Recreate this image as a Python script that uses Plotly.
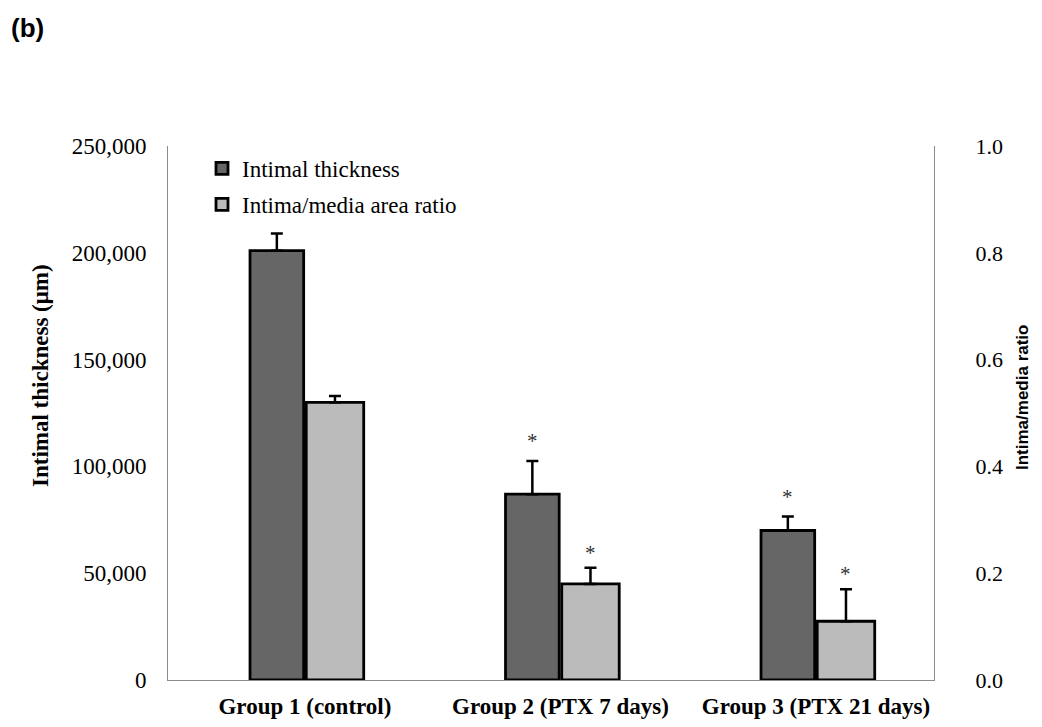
import plotly.graph_objects as go

categories = ["Group 1 (control)", "Group 2 (PTX 7 days)", "Group 3 (PTX 21 days)"]
thickness = [201000, 87000, 70000]
thickness_err = [8000, 15500, 6500]
ratio = [0.52, 0.18, 0.11]
ratio_err = [0.012, 0.03, 0.06]
sig_thickness = [False, True, True]
sig_ratio = [False, True, True]
left_ticks = [0, 50000, 100000, 150000, 200000, 250000]
right_ticks = [0.0, 0.2, 0.4, 0.6, 0.8, 1.0]

xpos = list(range(len(categories)))
SERIF = "Liberation Serif, Times New Roman, serif"
SANS = "Liberation Sans, Arial, sans-serif"

dark_off, dark_w = -0.215, 0.21
light_off, light_w = 0.005, 0.225

# page offset from default body margin
OFF = 8
W, H = 1042 - OFF, 727 - OFF
L, R, T, B = 168 - OFF, 108, 146 - OFF, 47
pw, ph = W - L - R, H - T - B


def px_to_paper(px, py):
    return (px - OFF - L) / pw, (H - B - (py - OFF)) / ph


fig = go.Figure()
fig.add_trace(go.Bar(
    x=xpos, y=thickness, name="Intimal thickness",
    offset=dark_off, width=dark_w,
    marker=dict(color="#666666", line=dict(color="black", width=2.8)),
    error_y=dict(type="data", array=thickness_err, arrayminus=[0] * len(thickness),
                 symmetric=False, color="black", thickness=2.5, width=6),
    legendgroup="a", yaxis="y",
))
fig.add_trace(go.Bar(
    x=xpos, y=ratio, name="Intima/media area ratio",
    offset=light_off, width=light_w,
    marker=dict(color="#bbbbbb", line=dict(color="black", width=2.8)),
    error_y=dict(type="data", array=ratio_err, arrayminus=[0] * len(ratio),
                 symmetric=False, color="black", thickness=2.5, width=6),
    legendgroup="b", yaxis="y2",
))

annotations = []
for i, s in enumerate(sig_thickness):
    if s:
        annotations.append(dict(x=xpos[i] + dark_off + dark_w / 2, y=thickness[i] + thickness_err[i],
                                xref="x", yref="y", text="*", showarrow=False,
                                xanchor="center", yanchor="bottom", yshift=6,
                                font=dict(family=SERIF, size=21, color="#333333")))
for i, s in enumerate(sig_ratio):
    if s:
        annotations.append(dict(x=xpos[i] + light_off + light_w / 2, y=ratio[i] + ratio_err[i],
                                xref="x", yref="y2", text="*", showarrow=False,
                                xanchor="center", yanchor="bottom", yshift=1,
                                font=dict(family=SERIF, size=21, color="#333333")))

ax, ay = px_to_paper(40, 376)
annotations.append(dict(x=ax, y=ay, xref="paper", yref="paper", text="Intimal thickness (μm)",
                        showarrow=False, textangle=-90, xanchor="center", yanchor="middle",
                        font=dict(family=SERIF, size=23, color="black", weight="bold")))
ax, ay = px_to_paper(1022, 397)
annotations.append(dict(x=ax, y=ay, xref="paper", yref="paper", text="Intima/media ratio",
                        showarrow=False, textangle=-90, xanchor="center", yanchor="middle",
                        font=dict(family=SANS, size=17, color="black", weight="bold")))
ax, ay = px_to_paper(27, 28)
annotations.append(dict(x=ax, y=ay, xref="paper", yref="paper", text="(b)",
                        showarrow=False, xanchor="center", yanchor="middle",
                        font=dict(family=SANS, size=26, color="black", weight="bold")))

lx, ly = px_to_paper(202, 147)

fig.update_layout(
    width=W, height=H,
    margin=dict(l=L, r=R, t=T, b=B, autoexpand=False),
    paper_bgcolor="white", plot_bgcolor="white",
    barmode="overlay",
    showlegend=True,
    legend=dict(x=lx, y=ly, xanchor="left", yanchor="top",
                font=dict(family=SERIF, size=23, color="black"),
                traceorder="grouped", tracegroupgap=3, bgcolor="rgba(0,0,0,0)"),
    xaxis=dict(tickvals=xpos, ticktext=categories, range=[-0.536, 2.462],
               showline=True, linecolor="#8c8c8c", linewidth=1, showgrid=False,
               zeroline=False, ticks="", ticklabelstandoff=5,
               tickfont=dict(family=SERIF, size=23, color="black", weight="bold")),
    yaxis=dict(range=[0, 250000], tickvals=left_ticks, tickformat=",",
               showline=True, linecolor="#8c8c8c", linewidth=1, showgrid=False,
               zeroline=False, ticks="", ticklabelstandoff=16,
               tickfont=dict(family=SERIF, size=23, color="black")),
    yaxis2=dict(range=[0, 1], tickvals=right_ticks, tickformat=".1f",
                overlaying="y", side="right",
                showline=True, linecolor="#8c8c8c", linewidth=1, showgrid=False,
                zeroline=False, ticks="", ticklabelstandoff=36,
                tickfont=dict(family=SERIF, size=22, color="black")),
    annotations=annotations,
)

fig.write_html("out.html")
